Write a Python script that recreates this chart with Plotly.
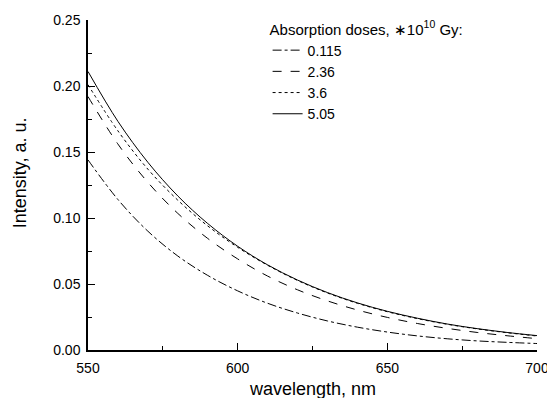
import plotly.graph_objects as go

wavelength = [550, 560, 570, 580, 590, 600, 610, 620, 630, 640, 650, 660, 670, 680, 690, 700]
dose_labels = ["0.115", "2.36", "3.6", "5.05"]
int_0115 = [0.144, 0.114, 0.090, 0.0712, 0.0565, 0.0448, 0.0354, 0.0280, 0.0220, 0.0173, 0.0136, 0.0107, 0.0085, 0.0069, 0.0058, 0.0049]
int_236 = [0.192, 0.156, 0.127, 0.1035, 0.0845, 0.069, 0.0560, 0.0456, 0.0372, 0.0303, 0.0247, 0.0201, 0.0164, 0.0133, 0.0108, 0.0086]
int_36 = [0.201, 0.166, 0.137, 0.1135, 0.0940, 0.0778, 0.0642, 0.0527, 0.0432, 0.0354, 0.0290, 0.0238, 0.0195, 0.0160, 0.0131, 0.0106]
int_505 = [0.211, 0.1732, 0.1422, 0.1167, 0.0958, 0.0786, 0.0645, 0.0530, 0.0435, 0.0357, 0.0293, 0.0241, 0.0197, 0.0162, 0.0133, 0.0109]

series = [int_0115, int_236, int_36, int_505]
dashes = ["dashdot", "dash", "dot", "solid"]

fig = go.Figure()
for lab, ys, d in zip(dose_labels, series, dashes):
    fig.add_trace(go.Scatter(x=wavelength, y=ys, mode="lines", name=lab,
                             line=dict(color="black", width=1, dash=d, shape="spline")))

font = "Liberation Sans, Arial, sans-serif"
fig.update_layout(
    width=547, height=398,
    margin=dict(l=88, r=10, t=20, b=48),
    paper_bgcolor="white", plot_bgcolor="white",
    font=dict(family=font, color="black", size=14),
    showlegend=True,
    legend=dict(
        x=0.40, y=1.015, xanchor="left", yanchor="top",
        bgcolor="rgba(0,0,0,0)",
        font=dict(size=14, family=font),
        title=dict(text="Absorption doses, ∗10<sup>10</sup> Gy:", font=dict(size=15, family=font)),
        tracegroupgap=0, itemwidth=30,
    ),
    xaxis=dict(
        range=[550, 700], dtick=50, tick0=550, automargin=False,
        showline=True, linecolor="black", linewidth=1.5, mirror=False,
        ticks="inside", ticklen=7, tickwidth=1.2, tickcolor="black",
        minor=dict(ticks="inside", ticklen=4, dtick=25, tickcolor="black", tickwidth=1.2),
        showgrid=False, zeroline=False,
        tickfont=dict(size=14), ticklabeloverflow="allow", ticklabelstandoff=4,
    ),
    yaxis=dict(
        range=[0, 0.25], dtick=0.05, tickformat=".2f", automargin=False,
        showline=True, linecolor="black", linewidth=1.5, mirror=False,
        ticks="inside", ticklen=7, tickwidth=1.2, tickcolor="black",
        minor=dict(ticks="inside", ticklen=4, dtick=0.025, tickcolor="black", tickwidth=1.2),
        showgrid=False, zeroline=False,
        tickfont=dict(size=14), ticklabelstandoff=3,
    ),
    annotations=[
        dict(text="Intensity, a. u.", textangle=-90, showarrow=False,
             xref="paper", yref="paper", x=-0.151, y=0.536,
             xanchor="center", yanchor="middle", font=dict(size=18)),
        dict(text="wavelength, nm", showarrow=False,
             xref="paper", yref="paper", x=0.5, y=-0.118,
             xanchor="center", yanchor="middle", font=dict(size=18)),
    ],
)

fig.write_html("out.html")
